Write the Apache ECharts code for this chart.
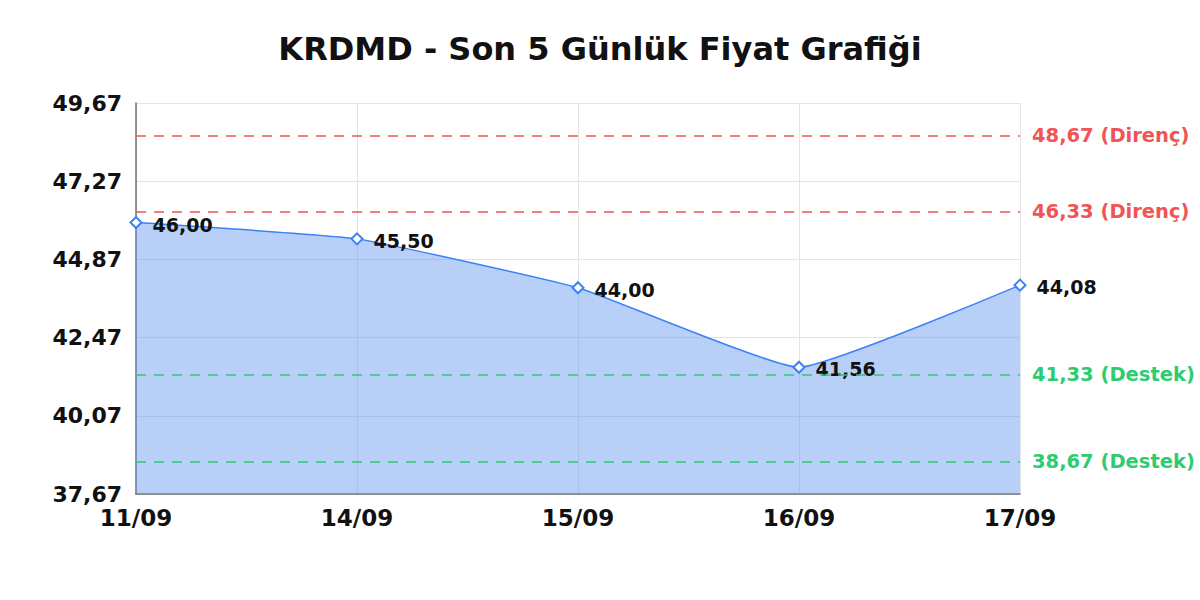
<!DOCTYPE html>
<html>
<head>
<meta charset="utf-8">
<script src="https://cdn.jsdelivr.net/npm/echarts@6/dist/echarts.min.js"></script>
<style>
  html, body { margin: 0; padding: 0; background: #fff; }
  #chart { width: 1200px; height: 600px; }
</style>
</head>
<body>
<div id="chart"></div>
<script>
// KRDMD son 5 gün fiyat grafiği
var dates = ['11/09', '14/09', '15/09', '16/09', '17/09'];
var prices = [46.00, 45.50, 44.00, 41.56, 44.08];
var resistance = [48.67, 46.33];
var support = [41.33, 38.67];
var yMin = 37.67, yMax = 49.67, yStep = 2.4;

function tr(v) { return v.toFixed(2).replace('.', ','); }

var font = 'DejaVu Sans';
var lines = [];
resistance.forEach(function(v) {
  lines.push({
    yAxis: v,
    lineStyle: { color: '#f05454', type: [10, 8], width: 1.5 },
    label: { color: '#f05454', formatter: tr(v) + ' (Direnç)' }
  });
});
support.forEach(function(v) {
  lines.push({
    yAxis: v,
    lineStyle: { color: '#2ecc71', type: [10, 8], width: 1.5 },
    label: { color: '#2ecc71', formatter: tr(v) + ' (Destek)' }
  });
});

var chart = echarts.init(document.getElementById('chart'), null, { renderer: 'svg' });
chart.setOption({
  animation: false,
  title: {
    text: 'KRDMD - Son 5 Günlük Fiyat Grafiği',
    left: 'center',
    top: 28,
    textStyle: { fontFamily: font, fontSize: 32, fontWeight: 'bold', color: '#111' }
  },
  grid: { left: 136, right: 180, top: 103, bottom: 106 },
  xAxis: {
    type: 'category',
    data: dates,
    boundaryGap: false,
    axisLine: { lineStyle: { color: '#6f6f6f', width: 1.5 } },
    axisTick: { show: false },
    axisLabel: { fontFamily: font, fontSize: 23, fontWeight: 'bold', color: '#111', margin: 12 },
    splitLine: { show: true, lineStyle: { color: '#e4e4e4' } }
  },
  yAxis: {
    type: 'value',
    min: yMin,
    max: yMax,
    interval: yStep,
    axisLine: { show: true, lineStyle: { color: '#6f6f6f', width: 1.5 } },
    axisTick: { show: false },
    axisLabel: {
      fontFamily: font, fontSize: 22, fontWeight: 'bold', color: '#111', margin: 14,
      formatter: function(v) { return tr(v); }
    },
    splitLine: { lineStyle: { color: '#e4e4e4' } }
  },
  series: [{
    type: 'line',
    data: prices,
    smooth: 0.12,
    symbol: 'emptyDiamond',
    symbolSize: 11,
    lineStyle: { color: '#3b82f6', width: 1.5 },
    itemStyle: { color: '#3b82f6', borderWidth: 2 },
    areaStyle: { color: 'rgba(100,150,240,0.46)', opacity: 1, origin: 'start' },
    label: {
      show: true,
      position: 'right',
      distance: 10,
      offset: [0, 2],
      fontFamily: font,
      fontSize: 19,
      fontWeight: 'bold',
      color: '#111',
      formatter: function(p) { return tr(p.value); }
    },
    markLine: {
      silent: true,
      symbol: 'none',
      label: {
        position: 'end',
        distance: 12,
        fontFamily: font,
        fontSize: 19.5,
        fontWeight: 'bold'
      },
      data: lines
    }
  }]
});
</script>
</body>
</html>
